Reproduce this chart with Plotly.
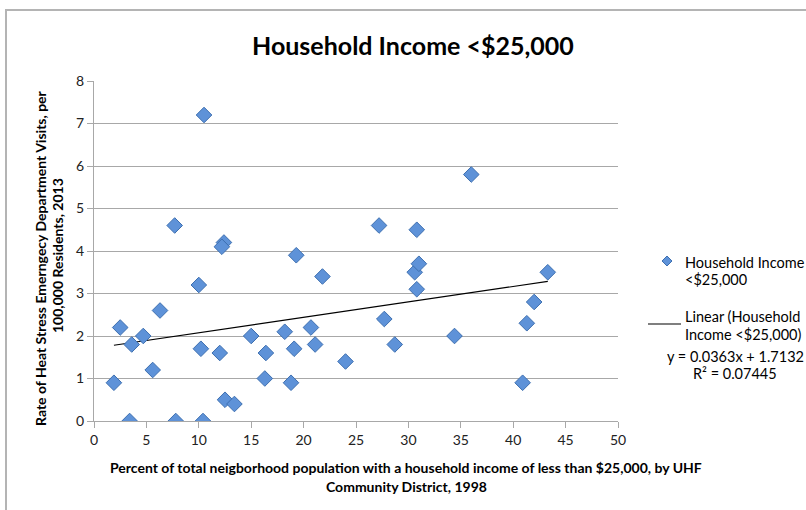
import numpy as np
import plotly.graph_objects as go

# Percent of neighborhood population with household income < $25,000 (UHF, 1998)
pct_low_income = [
    10.5, 7.7, 12.4, 12.2, 19.3, 21.8, 10.0, 6.3, 2.5, 3.6,
    4.7, 5.6, 1.9, 3.4, 7.8, 10.4, 10.2, 12.0, 12.5, 13.4,
    15.0, 16.4, 16.3, 18.2, 19.1, 18.8, 20.7, 21.1, 24.0, 27.2,
    27.7, 28.7, 30.8, 30.6, 31.0, 30.8, 34.4, 36.0, 40.9, 41.3,
    42.0, 43.3,
]
# Heat stress ED visit rate per 100,000 residents, 2013
heat_ed_rate = [
    7.2, 4.6, 4.2, 4.1, 3.9, 3.4, 3.2, 2.6, 2.2, 1.8,
    2.0, 1.2, 0.9, 0.0, 0.0, 0.0, 1.7, 1.6, 0.5, 0.4,
    2.0, 1.6, 1.0, 2.1, 1.7, 0.9, 2.2, 1.8, 1.4, 4.6,
    2.4, 1.8, 4.5, 3.5, 3.7, 3.1, 2.0, 5.8, 0.9, 2.3,
    2.8, 3.5,
]

# Linear trendline as reported on the chart
trend_slope = 0.0363
trend_intercept = 1.7132
trend_r2 = 0.07445

x_ticks = [0, 5, 10, 15, 20, 25, 30, 35, 40, 45, 50]
y_ticks = [0, 1, 2, 3, 4, 5, 6, 7, 8]

FONT = "Lato"
W, H = 806, 510
ML, MR, MT, MB = 94, 188, 81, 89
PW, PH = W - ML - MR, H - MT - MB


def px_x(px):
    return (px - ML) / PW


def px_y(py):
    return (H - MB - py) / PH


trend_x = np.array([min(pct_low_income), max(pct_low_income)])
trend_y = trend_slope * trend_x + trend_intercept

fig = go.Figure()
fig.add_trace(go.Scatter(
    x=trend_x, y=trend_y, mode="lines",
    line=dict(color="#000000", width=1.2),
    showlegend=False, hoverinfo="skip",
))
fig.add_trace(go.Scatter(
    x=pct_low_income, y=heat_ed_rate, mode="markers",
    marker=dict(symbol="diamond", size=12, color="#5e92d8",
                line=dict(color="#3d6fb0", width=1)),
    showlegend=False,
))

grid_col = "#a8a8a8"
tick_font = dict(family=FONT, size=14, color="#222222")
fig.update_xaxes(
    range=[0, 50], tickvals=x_ticks, ticktext=[str(v) for v in x_ticks],
    showgrid=False, zeroline=False,
    showline=True, linecolor=grid_col, linewidth=1,
    ticks="outside", ticklen=6, tickcolor=grid_col, tickfont=tick_font,
)
fig.update_yaxes(
    range=[0, 8], tickvals=y_ticks, ticktext=[str(v) for v in y_ticks],
    showgrid=True, gridcolor=grid_col, gridwidth=1, zeroline=False,
    showline=True, linecolor=grid_col, linewidth=1,
    ticks="outside", ticklen=6, tickcolor=grid_col, tickfont=tick_font,
)

title_font = dict(family=FONT, size=14, color="#000")
ann = []
# Chart title
ann.append(dict(text="<b>Household Income &lt;$25,000</b>", x=px_x(413), y=px_y(45),
                font=dict(family=FONT, size=25, color="#000")))
# X axis title (two lines)
ann.append(dict(text="<b>Percent of total neigborhood population with a household income of less than $25,000, by UHF</b>",
                x=px_x(406), y=px_y(467), font=title_font))
ann.append(dict(text="<b>Community District, 1998</b>",
                x=px_x(406), y=px_y(486), font=title_font))
# Y axis title (two lines, rotated)
ann.append(dict(text="<b>Rate of Heat Stress Emerngecy Department Visits, per</b>",
                x=px_x(40), y=px_y(258), textangle=-90, font=title_font))
ann.append(dict(text="<b>100,000 Residents, 2013</b>",
                x=px_x(58), y=px_y(256), textangle=-90, font=title_font))
# Legend texts
legend_font = dict(family=FONT, size=14.5, color="#000")
for txt, yy in [("Household Income", 262), ("&lt;$25,000", 279),
                ("Linear (Household", 316), ("Income &lt;$25,000)", 334)]:
    ann.append(dict(text=txt, x=px_x(683), y=px_y(yy), xanchor="left", font=legend_font))
ann.append(dict(text=f"y = {trend_slope}x + {trend_intercept}", x=px_x(735), y=px_y(356),
                font=legend_font))
ann.append(dict(text=f"R² = {trend_r2}", x=px_x(735), y=px_y(373), font=legend_font))

for a in ann:
    a.update(xref="paper", yref="paper", showarrow=False)
    a.setdefault("xanchor", "center")
    a.setdefault("yanchor", "middle")

shapes = []
# Outer chart frame
shapes.append(dict(type="rect", xref="paper", yref="paper",
                   x0=px_x(6), x1=px_x(830), y0=px_y(540), y1=px_y(10),
                   line=dict(color="#b4b4b4", width=2), fillcolor="rgba(0,0,0,0)", layer="below"))
# Legend symbols: diamond and trendline sample
cx, cy, r = px_x(667), px_y(261), 5
rx, ry = r / PW, r / PH
shapes.append(dict(type="path", xref="paper", yref="paper",
                   path=f"M {cx - rx},{cy} L {cx},{cy + ry} L {cx + rx},{cy} L {cx},{cy - ry} Z",
                   fillcolor="#5e92d8", line=dict(color="#3d6fb0", width=1)))
shapes.append(dict(type="line", xref="paper", yref="paper",
                   x0=px_x(648), x1=px_x(681), y0=px_y(324), y1=px_y(324),
                   line=dict(color="#000", width=1.2)))

fig.update_layout(
    width=W, height=H,
    margin=dict(l=ML, r=MR, t=MT, b=MB, pad=0),
    paper_bgcolor="white", plot_bgcolor="white",
    annotations=ann, shapes=shapes,
    showlegend=False,
)

fig.write_html("out.html")
